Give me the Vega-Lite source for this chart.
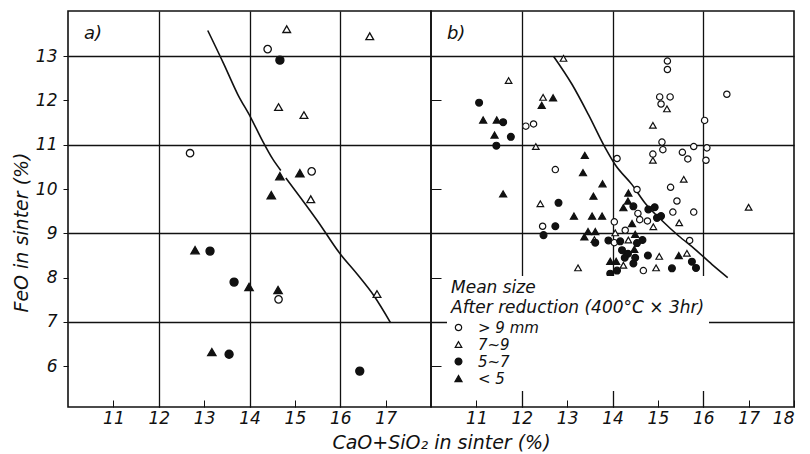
{
  "$schema": "https://vega.github.io/schema/vega-lite/v6.json",
  "background": "white",
  "padding": {"left": 11, "top": 10, "right": 5, "bottom": 2},
  "spacing": 0,
  "bounds": "flush",
  "datasets": {
    "a_points": [
      {"x": 14.40, "y": 13.16, "group": "> 9 mm"},
      {"x": 12.69, "y": 10.81, "group": "> 9 mm"},
      {"x": 15.37, "y": 10.40, "group": "> 9 mm"},
      {"x": 14.64, "y": 7.51, "group": "> 9 mm"},
      {"x": 14.82, "y": 13.61, "group": "7~9"},
      {"x": 16.65, "y": 13.45, "group": "7~9"},
      {"x": 14.64, "y": 11.85, "group": "7~9"},
      {"x": 15.20, "y": 11.67, "group": "7~9"},
      {"x": 15.35, "y": 9.77, "group": "7~9"},
      {"x": 16.81, "y": 7.63, "group": "7~9"},
      {"x": 14.67, "y": 12.91, "group": "5~7"},
      {"x": 13.13, "y": 8.60, "group": "5~7"},
      {"x": 13.66, "y": 7.90, "group": "5~7"},
      {"x": 13.55, "y": 6.27, "group": "5~7"},
      {"x": 16.43, "y": 5.89, "group": "5~7"},
      {"x": 14.67, "y": 10.29, "group": "< 5"},
      {"x": 15.11, "y": 10.36, "group": "< 5"},
      {"x": 14.48, "y": 9.86, "group": "< 5"},
      {"x": 12.80, "y": 8.62, "group": "< 5"},
      {"x": 13.99, "y": 7.79, "group": "< 5"},
      {"x": 14.63, "y": 7.72, "group": "< 5"},
      {"x": 13.17, "y": 6.32, "group": "< 5"}
    ],
    "a_curve": [
      {"x": 13.08, "y": 13.58, "seg": 1},
      {"x": 13.44, "y": 12.81, "seg": 1},
      {"x": 13.74, "y": 12.14, "seg": 1},
      {"x": 14.03, "y": 11.61, "seg": 1},
      {"x": 14.29, "y": 11.08, "seg": 1},
      {"x": 14.51, "y": 10.68, "seg": 1},
      {"x": 14.69, "y": 10.42, "seg": 1},
      {"x": 14.80, "y": 10.25, "seg": 2},
      {"x": 15.13, "y": 9.80, "seg": 2},
      {"x": 15.50, "y": 9.28, "seg": 2},
      {"x": 15.98, "y": 8.56, "seg": 2},
      {"x": 16.38, "y": 8.07, "seg": 2},
      {"x": 16.75, "y": 7.58, "seg": 2},
      {"x": 17.11, "y": 6.98, "seg": 2}
    ],
    "b_curve": [
      {"x": 12.70, "y": 13.0},
      {"x": 13.11, "y": 12.36},
      {"x": 13.47, "y": 11.68},
      {"x": 13.84, "y": 10.93},
      {"x": 14.06, "y": 10.55},
      {"x": 14.43, "y": 10.10},
      {"x": 14.72, "y": 9.68},
      {"x": 15.10, "y": 9.28},
      {"x": 15.46, "y": 8.94},
      {"x": 15.82, "y": 8.64},
      {"x": 16.19, "y": 8.30},
      {"x": 16.54, "y": 8.0}
    ],
    "a_label": [{"label": "a)", "x": 10.35, "y": 13.5}],
    "b_label": [{"label": "b)", "x": 10.35, "y": 13.5}],
    "b_points": [
      {"x": 12.92, "y": 12.95, "group": "7~9"},
      {"x": 11.71, "y": 12.45, "group": "7~9"},
      {"x": 11.06, "y": 11.95, "group": "5~7"},
      {"x": 12.47, "y": 12.07, "group": "7~9"},
      {"x": 12.69, "y": 12.06, "group": "< 5"},
      {"x": 12.44, "y": 11.89, "group": "< 5"},
      {"x": 11.15, "y": 11.56, "group": "< 5"},
      {"x": 11.45, "y": 11.56, "group": "< 5"},
      {"x": 11.59, "y": 11.51, "group": "5~7"},
      {"x": 12.09, "y": 11.42, "group": "> 9 mm"},
      {"x": 12.26, "y": 11.47, "group": "> 9 mm"},
      {"x": 11.40, "y": 11.22, "group": "< 5"},
      {"x": 11.76, "y": 11.18, "group": "5~7"},
      {"x": 11.44, "y": 10.98, "group": "5~7"},
      {"x": 12.31, "y": 10.96, "group": "7~9"},
      {"x": 13.39, "y": 10.76, "group": "< 5"},
      {"x": 14.10, "y": 10.69, "group": "> 9 mm"},
      {"x": 12.74, "y": 10.44, "group": "> 9 mm"},
      {"x": 15.21, "y": 12.89, "group": "> 9 mm"},
      {"x": 15.21, "y": 12.70, "group": "> 9 mm"},
      {"x": 15.04, "y": 12.08, "group": "> 9 mm"},
      {"x": 15.27, "y": 12.08, "group": "> 9 mm"},
      {"x": 15.07, "y": 11.92, "group": "> 9 mm"},
      {"x": 15.20, "y": 11.81, "group": "7~9"},
      {"x": 16.52, "y": 12.14, "group": "> 9 mm"},
      {"x": 16.03, "y": 11.55, "group": "> 9 mm"},
      {"x": 14.89, "y": 11.44, "group": "7~9"},
      {"x": 15.09, "y": 11.06, "group": "> 9 mm"},
      {"x": 15.11, "y": 10.89, "group": "> 9 mm"},
      {"x": 14.89, "y": 10.79, "group": "> 9 mm"},
      {"x": 14.89, "y": 10.65, "group": "7~9"},
      {"x": 15.54, "y": 10.83, "group": "> 9 mm"},
      {"x": 15.66, "y": 10.68, "group": "> 9 mm"},
      {"x": 15.79, "y": 10.96, "group": "> 9 mm"},
      {"x": 16.08, "y": 10.93, "group": "> 9 mm"},
      {"x": 16.06, "y": 10.65, "group": "> 9 mm"},
      {"x": 13.35, "y": 10.37, "group": "< 5"},
      {"x": 13.78, "y": 10.12, "group": "< 5"},
      {"x": 13.58, "y": 9.84, "group": "< 5"},
      {"x": 11.59, "y": 9.89, "group": "< 5"},
      {"x": 12.41, "y": 9.67, "group": "7~9"},
      {"x": 12.81, "y": 9.69, "group": "5~7"},
      {"x": 13.15, "y": 9.39, "group": "< 5"},
      {"x": 13.55, "y": 9.39, "group": "< 5"},
      {"x": 13.77, "y": 9.39, "group": "< 5"},
      {"x": 14.04, "y": 9.26, "group": "> 9 mm"},
      {"x": 12.46, "y": 9.16, "group": "> 9 mm"},
      {"x": 12.74, "y": 9.16, "group": "5~7"},
      {"x": 12.48, "y": 8.96, "group": "5~7"},
      {"x": 13.46, "y": 9.04, "group": "< 5"},
      {"x": 13.62, "y": 9.04, "group": "< 5"},
      {"x": 13.38, "y": 8.92, "group": "< 5"},
      {"x": 13.60, "y": 8.86, "group": "7~9"},
      {"x": 13.62, "y": 8.79, "group": "5~7"},
      {"x": 14.06, "y": 9.01, "group": "7~9"},
      {"x": 13.91, "y": 8.84, "group": "5~7"},
      {"x": 14.04, "y": 8.79, "group": "> 9 mm"},
      {"x": 13.24, "y": 8.22, "group": "7~9"},
      {"x": 13.95, "y": 8.37, "group": "< 5"},
      {"x": 14.08, "y": 8.37, "group": "< 5"},
      {"x": 13.95, "y": 8.09, "group": "5~7"},
      {"x": 13.20, "y": 7.75, "group": "< 5"},
      {"x": 13.60, "y": 7.87, "group": "5~7"},
      {"x": 14.13, "y": 7.73, "group": "5~7"},
      {"x": 14.35, "y": 9.91, "group": "< 5"},
      {"x": 14.54, "y": 9.99, "group": "> 9 mm"},
      {"x": 15.28, "y": 10.04, "group": "> 9 mm"},
      {"x": 15.57, "y": 10.22, "group": "7~9"},
      {"x": 14.34, "y": 9.73, "group": "< 5"},
      {"x": 14.24, "y": 9.58, "group": "< 5"},
      {"x": 14.46, "y": 9.61, "group": "5~7"},
      {"x": 15.42, "y": 9.73, "group": "> 9 mm"},
      {"x": 14.79, "y": 9.54, "group": "5~7"},
      {"x": 14.93, "y": 9.59, "group": "5~7"},
      {"x": 14.56, "y": 9.45, "group": "> 9 mm"},
      {"x": 15.33, "y": 9.48, "group": "> 9 mm"},
      {"x": 15.79, "y": 9.48, "group": "> 9 mm"},
      {"x": 14.98, "y": 9.35, "group": "5~7"},
      {"x": 15.07, "y": 9.39, "group": "5~7"},
      {"x": 14.60, "y": 9.31, "group": "> 9 mm"},
      {"x": 14.77, "y": 9.28, "group": "> 9 mm"},
      {"x": 14.43, "y": 9.22, "group": "< 5"},
      {"x": 15.47, "y": 9.24, "group": "7~9"},
      {"x": 14.90, "y": 9.15, "group": "7~9"},
      {"x": 14.28, "y": 9.07, "group": "> 9 mm"},
      {"x": 14.50, "y": 8.98, "group": "< 5"},
      {"x": 14.35, "y": 8.85, "group": "7~9"},
      {"x": 14.17, "y": 8.82, "group": "5~7"},
      {"x": 14.66, "y": 8.85, "group": "5~7"},
      {"x": 14.54, "y": 8.78, "group": "5~7"},
      {"x": 14.48, "y": 8.64, "group": "< 5"},
      {"x": 15.70, "y": 8.84, "group": "> 9 mm"},
      {"x": 14.21, "y": 8.62, "group": "5~7"},
      {"x": 14.34, "y": 8.54, "group": "5~7"},
      {"x": 14.27, "y": 8.45, "group": "5~7"},
      {"x": 14.50, "y": 8.45, "group": "5~7"},
      {"x": 14.78, "y": 8.50, "group": "5~7"},
      {"x": 15.03, "y": 8.48, "group": "7~9"},
      {"x": 15.46, "y": 8.50, "group": "< 5"},
      {"x": 15.64, "y": 8.55, "group": "7~9"},
      {"x": 15.75, "y": 8.36, "group": "5~7"},
      {"x": 15.84, "y": 8.22, "group": "5~7"},
      {"x": 15.31, "y": 8.21, "group": "5~7"},
      {"x": 14.96, "y": 8.22, "group": "7~9"},
      {"x": 14.68, "y": 8.16, "group": "> 9 mm"},
      {"x": 14.46, "y": 8.32, "group": "5~7"},
      {"x": 14.10, "y": 8.16, "group": "5~7"},
      {"x": 14.24, "y": 8.28, "group": "7~9"},
      {"x": 14.96, "y": 7.86, "group": "< 5"},
      {"x": 17.00, "y": 9.59, "group": "7~9"}
    ]
  },
  "hconcat": [
    {
      "width": 363,
      "height": 396,
      "encoding": {
        "x": {
          "field": "x", "type": "quantitative",
          "scale": {"domain": [10, 18], "nice": false, "zero": false},
          "axis": {
            "values": [11, 12, 13, 14, 15, 16, 17],
            "title": "CaO+SiO₂  in sinter (%)",
            "titleX": 373, "titleY": 26, "titleAlign": "center", "titleBaseline": "top",
            "tickSize": -7, "labelPadding": 10,
            "grid": true,
            "gridOpacity": {"condition": {"test": "datum.value % 2 === 0", "value": 1}, "value": 0}
          }
        },
        "y": {
          "field": "y", "type": "quantitative",
          "scale": {"domain": [5.08, 14.02], "nice": false, "zero": false},
          "axis": {
            "values": [6, 7, 8, 9, 10, 11, 12, 13],
            "title": "FeO in sinter (%)",
            "titleY": 221,
            "tickSize": 5, "labelPadding": 6, "titlePadding": 4,
            "grid": true,
            "gridOpacity": {"condition": {"test": "datum.value % 2 === 1", "value": 1}, "value": 0}
          }
        }
      },
      "layer": [
        {
          "data": {"name": "a_curve"},
          "mark": {"type": "line", "color": "#111", "strokeWidth": 1.6, "interpolate": "monotone"},
          "encoding": {"detail": {"field": "seg", "type": "nominal"}}
        },
        {
          "data": {"name": "a_points"},
          "mark": {"type": "point", "filled": true, "strokeWidth": 1.3, "opacity": 1},
          "encoding": {
            "shape": {"field": "group", "type": "nominal", "scale": {"domain": ["> 9 mm", "7~9", "5~7", "< 5"], "range": ["circle", "triangle-up", "circle", "triangle-up"]}, "legend": null},
            "fill": {"field": "group", "type": "nominal", "scale": {"domain": ["> 9 mm", "7~9", "5~7", "< 5"], "range": ["white", "white", "#111", "#111"]}, "legend": null},
            "stroke": {"field": "group", "type": "nominal", "scale": {"domain": ["> 9 mm", "7~9", "5~7", "< 5"], "range": ["#111", "#111", "#111", "#111"]}, "legend": null},
            "size": {"field": "group", "type": "nominal", "scale": {"domain": ["> 9 mm", "7~9", "5~7", "< 5"], "range": [55, 70, 48, 70]}, "legend": null}
          }
        },
        {
          "data": {"name": "a_label"},
          "mark": {"type": "text", "align": "left", "baseline": "middle", "fontSize": 18, "fontStyle": "italic", "font": "DejaVu Sans", "color": "#111"},
          "encoding": {"text": {"field": "label"}}
        }
      ]
    },
    {
      "width": 363,
      "height": 396,
      "encoding": {
        "x": {
          "field": "x", "type": "quantitative",
          "scale": {"domain": [10, 18], "nice": false, "zero": false},
          "axis": {
            "values": [11, 12, 13, 14, 15, 16, 17, 18],
            "title": null,
            "tickSize": -7, "labelPadding": 10,
            "grid": true,
            "gridOpacity": {"condition": {"test": "datum.value % 2 === 0 && datum.value < 18", "value": 1}, "value": 0}
          }
        },
        "y": {
          "field": "y", "type": "quantitative",
          "scale": {"domain": [5.08, 14.02], "nice": false, "zero": false},
          "axis": {
            "values": [6, 7, 8, 9, 10, 11, 12, 13],
            "title": null,
            "labels": false,
            "tickSize": -10,
            "tickOpacity": {"condition": {"test": "datum.value % 2 === 0", "value": 1}, "value": 0},
            "grid": true,
            "gridOpacity": {"condition": {"test": "datum.value % 2 === 1", "value": 1}, "value": 0}
          }
        }
      },
      "layer": [
        {
          "data": {"name": "b_curve"},
          "mark": {"type": "line", "color": "#111", "strokeWidth": 1.6, "interpolate": "monotone"},
          "encoding": {}
        },
        {
          "data": {"name": "b_points"},
          "mark": {"type": "point", "filled": true, "strokeWidth": 1.2, "opacity": 1},
          "encoding": {
            "shape": {"field": "group", "type": "nominal", "scale": {"domain": ["> 9 mm", "7~9", "5~7", "< 5"], "range": ["circle", "triangle-up", "circle", "triangle-up"]},
              "legend": {"title": ["Mean size", "After reduction (400°C × 3hr)"]}},
            "fill": {"field": "group", "type": "nominal", "scale": {"domain": ["> 9 mm", "7~9", "5~7", "< 5"], "range": ["white", "white", "#111", "#111"]},
              "legend": {"title": ["Mean size", "After reduction (400°C × 3hr)"]}},
            "stroke": {"field": "group", "type": "nominal", "scale": {"domain": ["> 9 mm", "7~9", "5~7", "< 5"], "range": ["#111", "#111", "#111", "#111"]},
              "legend": {"title": ["Mean size", "After reduction (400°C × 3hr)"]}},
            "size": {"field": "group", "type": "nominal", "scale": {"domain": ["> 9 mm", "7~9", "5~7", "< 5"], "range": [40, 50, 12, 50]},
              "legend": {"title": ["Mean size", "After reduction (400°C × 3hr)"]}}
          }
        },
        {
          "data": {"name": "b_label"},
          "mark": {"type": "text", "align": "left", "baseline": "middle", "fontSize": 18, "fontStyle": "italic", "font": "DejaVu Sans", "color": "#111"},
          "encoding": {"text": {"field": "label"}}
        }
      ]
    }
  ],
  "resolve": {"scale": {"shape": "independent", "fill": "independent", "stroke": "independent", "size": "independent"}, "legend": {"shape": "independent", "fill": "independent", "stroke": "independent", "size": "independent"}},
  "config": {
    "view": {"stroke": "#111", "strokeWidth": 1.6},
    "axis": {
      "domain": false,
      "labelFont": "DejaVu Sans",
      "labelFontStyle": "italic",
      "labelFontSize": 17,
      "labelColor": "#111",
      "titleFont": "DejaVu Sans",
      "titleFontStyle": "italic",
      "titleFontWeight": "normal",
      "titleFontSize": 19,
      "titleColor": "#111",
      "tickColor": "#111",
      "gridColor": "#111",
      "gridWidth": 1.3
    },
    "legend": {
      "orient": "bottom-left",
      "offset": 16,
      "titleFont": "DejaVu Sans",
      "titleFontStyle": "italic",
      "titleFontWeight": "normal",
      "titleFontSize": 17,
      "titleColor": "#111",
      "titleLineHeight": 20,
      "titlePadding": 3,
      "titleLimit": 400,
      "labelFont": "DejaVu Sans",
      "labelFontStyle": "italic",
      "labelFontSize": 15,
      "labelColor": "#111",
      "labelOffset": 12,
      "rowPadding": 1,
      "symbolStrokeWidth": 1.2,
      "fillColor": "white",
      "padding": 4
    }
  }
}
